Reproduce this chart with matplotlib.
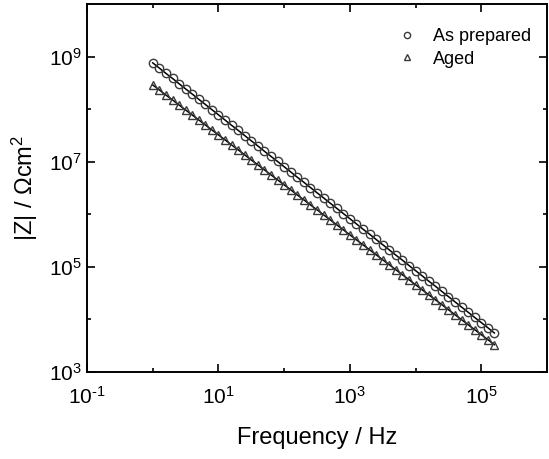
import matplotlib
matplotlib.use("Agg")
import matplotlib.pyplot as plt
import numpy as np
from matplotlib.ticker import FixedLocator, NullFormatter, FuncFormatter

plt.rcParams["font.family"] = ["Liberation Sans", "DejaVu Sans"]
plt.rcParams["mathtext.fontset"] = "custom"
plt.rcParams["mathtext.rm"] = "Liberation Sans"
plt.rcParams["mathtext.it"] = "Liberation Sans:italic"

# frequency in Hz, 10 points per decade
freq = [1.0, 1.26, 1.58, 2.0, 2.51, 3.16, 3.98, 5.01, 6.31, 7.94,
        10.0, 12.6, 15.8, 20.0, 25.1, 31.6, 39.8, 50.1, 63.1, 79.4,
        100.0, 126, 158, 200, 251, 316, 398, 501, 631, 794,
        1.0e3, 1.26e3, 1.58e3, 2.0e3, 2.51e3, 3.16e3, 3.98e3, 5.01e3, 6.31e3, 7.94e3,
        1.0e4, 1.26e4, 1.58e4, 2.0e4, 2.51e4, 3.16e4, 3.98e4, 5.01e4, 6.31e4, 7.94e4,
        1.0e5, 1.26e5, 1.58e5]

# |Z| in Ohm cm^2
z_prepared = [7.59e8, 6.04e8, 4.81e8, 3.84e8, 3.05e8, 2.43e8, 1.94e8, 1.54e8, 1.23e8, 9.79e7,
              7.80e7, 6.21e7, 4.94e7, 3.94e7, 3.14e7, 2.50e7, 1.99e7, 1.58e7, 1.26e7, 1.01e7,
              8.02e6, 6.38e6, 5.08e6, 4.05e6, 3.23e6, 2.57e6, 2.05e6, 1.63e6, 1.30e6, 1.035e6,
              8.24e5, 6.56e5, 5.22e5, 4.17e5, 3.32e5, 2.64e5, 2.10e5, 1.67e5, 1.34e5, 1.06e5,
              8.47e4, 6.75e4, 5.37e4, 4.29e4, 3.41e4, 2.72e4, 2.16e4, 1.72e4, 1.37e4, 1.09e4,
              8.71e3, 6.93e3, 5.52e3]
z_aged = [2.88e8, 2.32e8, 1.86e8, 1.50e8, 1.20e8, 9.66e7, 7.76e7, 6.24e7, 5.01e7, 4.03e7,
          3.24e7, 2.60e7, 2.09e7, 1.68e7, 1.35e7, 1.08e7, 8.71e6, 7.00e6, 5.62e6, 4.52e6,
          3.63e6, 2.92e6, 2.34e6, 1.88e6, 1.51e6, 1.22e6, 9.77e5, 7.85e5, 6.31e5, 5.07e5,
          4.07e5, 3.27e5, 2.63e5, 2.11e5, 1.70e5, 1.36e5, 1.10e5, 8.81e4, 7.08e4, 5.69e4,
          4.57e4, 3.67e4, 2.95e4, 2.37e4, 1.91e4, 1.53e4, 1.23e4, 9.89e3, 7.94e3, 6.38e3,
          5.13e3, 4.12e3, 3.31e3]

x_major = [1e-1, 1e1, 1e3, 1e5]
x_minor = [1e0, 1e2, 1e4]
y_major = [1e3, 1e5, 1e7, 1e9]
y_minor = [1e4, 1e6, 1e8]


def pow10(v, pos):
    # short hyphen in the exponent, like the original
    e = str(int(round(np.log10(v)))).replace("-", "\u2010")
    return "10$^{" + e + "}$"


fig = plt.figure(figsize=(5.49, 4.59), dpi=100)
ax = fig.add_axes([0.1585, 0.1895, 0.8379, 0.8018])

# fitted lines under the markers
ax.plot(freq, z_prepared, color="black", lw=1.1, zorder=2)
ax.plot(freq, z_aged, color="black", lw=1.1, zorder=2)
ax.plot(freq, z_prepared, ls="none", marker="o", ms=6, mfc="none", mec="#3a3a3a", mew=1.0,
        zorder=3, label="As prepared")
ax.plot(freq, z_aged, ls="none", marker="^", ms=6, mfc="none", mec="#3a3a3a", mew=1.0,
        zorder=3, label="Aged")

ax.set_xscale("log")
ax.set_yscale("log")
ax.set_xlim(1e-1, 1e6)
ax.set_ylim(1e3, 1e10)

ax.xaxis.set_major_locator(FixedLocator(x_major))
ax.xaxis.set_minor_locator(FixedLocator(x_minor))
ax.yaxis.set_major_locator(FixedLocator(y_major))
ax.yaxis.set_minor_locator(FixedLocator(y_minor))
ax.xaxis.set_major_formatter(FuncFormatter(pow10))
ax.yaxis.set_major_formatter(FuncFormatter(pow10))
ax.xaxis.set_minor_formatter(NullFormatter())
ax.yaxis.set_minor_formatter(NullFormatter())

ax.tick_params(which="both", direction="in", top=True, right=True, width=1.2)
ax.tick_params(which="major", length=5.5, labelsize=15, pad=4)
ax.tick_params(axis="x", which="major", pad=10)
ax.tick_params(which="minor", length=3)
for s in ax.spines.values():
    s.set_linewidth(1.4)

ax.set_xlabel("Frequency / Hz", fontsize=17, labelpad=14)
ax.set_ylabel(r"|Z| / $\Omega$cm$^2$", fontsize=17, labelpad=6)

leg = ax.legend(loc="upper right", bbox_to_anchor=(1.0, 0.978), frameon=False,
                fontsize=13, markerscale=0.75, handlelength=1.2, handletextpad=0.8,
                labelspacing=0.3, borderaxespad=0.5)

fig.savefig("out.png", dpi=100)
